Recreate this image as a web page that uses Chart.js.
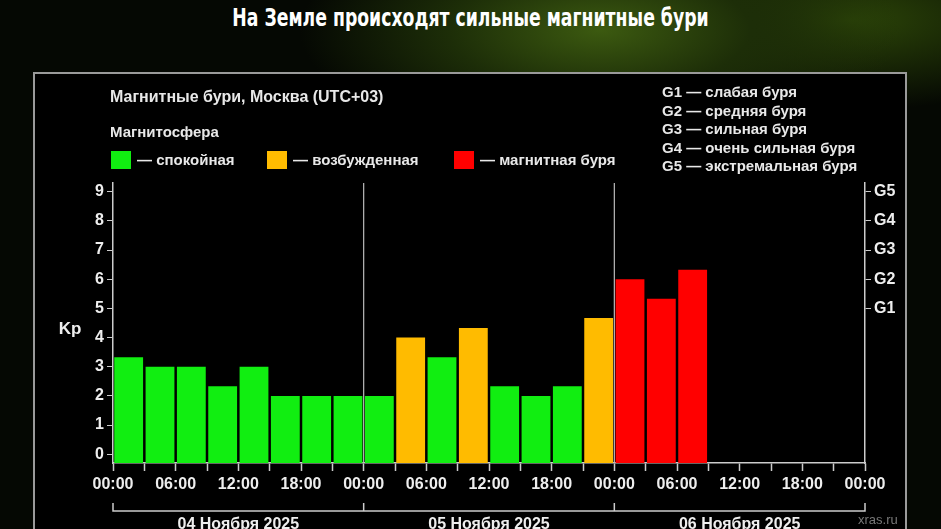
<!DOCTYPE html>
<html><head><meta charset="utf-8">
<script src="https://cdn.jsdelivr.net/npm/chart.js@4"></script>
<style>
body{margin:0;width:941px;height:529px;overflow:hidden;font-family:"Liberation Sans",Arial,sans-serif;
background:radial-gradient(ellipse 300px 120px at 600px 30px,#3c5a10 0%,#1d2e08 50%,transparent 100%),radial-gradient(ellipse 250px 90px at 850px 20px,#2c4508,transparent),#050803;position:relative}
#title{position:absolute;top:4px;left:0;width:941px;text-align:center;color:#fff;font:bold 24px "Liberation Sans Narrow","DejaVu Sans Condensed",sans-serif;transform:scaleX(0.8);}
#panel{position:absolute;left:33px;top:72px;width:870px;height:470px;background:#000;border:2px solid #9a9a9a}
canvas{position:absolute;left:0;top:0}
.t{position:absolute;color:#e8e8e8;font-weight:bold;font-size:15px;white-space:nowrap}
.sw{position:absolute;width:20px;height:18px}
</style></head><body>
<div id="title">На Земле происходят сильные магнитные бури</div>
<div id="panel"></div>
<canvas id="c" width="941" height="529"></canvas>
<div class="t" style="left:110px;top:88px;font-size:16px">Магнитные бури, Москва (UTC+03)</div>
<div class="t" style="left:110px;top:123px">Магнитосфера</div>
<div class="sw" style="left:111px;top:151px;background:#11ee11"></div><div class="t" style="left:137px;top:151px">— спокойная</div>
<div class="sw" style="left:267px;top:151px;background:#ffbb00"></div><div class="t" style="left:293px;top:151px">— возбужденная</div>
<div class="sw" style="left:454px;top:151px;background:#ff0000"></div><div class="t" style="left:480px;top:151px">— магнитная буря</div>
<div class="t" style="left:662px;top:83px;line-height:18.5px">G1 — слабая буря<br>G2 — средняя буря<br>G3 — сильная буря<br>G4 — очень сильная буря<br>G5 — экстремальная буря</div>
<div class="t" style="left:858px;top:512px;font-size:13px;font-weight:normal;color:#777">xras.ru</div>
<script>
const hours=[1.5,4.5,7.5,10.5,13.5,16.5,19.5,22.5,25.5,28.5,31.5,34.5,37.5,40.5,43.5,46.5,49.5,52.5,55.5];
const kp=[3.33,3,3,2.33,3,2,2,2,2,4,3.33,4.33,2.33,2,2.33,4.67,6,5.33,6.33];
const dayLabels=['04 Ноября 2025','05 Ноября 2025','06 Ноября 2025'];
const gLabels={5:'G1',6:'G2',7:'G3',8:'G4',9:'G5'};
const col=v=>v>=5?'#ff0000':(v>=4?'#ffbb00':'#11ee11');
const F={family:'"Liberation Sans",Arial',size:16,weight:'bold'};
const deco={id:'deco',afterDraw(c){const x=c.scales.x,y=c.scales.y,g=c.ctx,a=c.chartArea;g.save();
g.strokeStyle='#bbb';g.lineWidth=1.2;
[24,48].forEach(h=>{const p=x.getPixelForValue(h);g.beginPath();g.moveTo(p,a.top);g.lineTo(p,a.bottom);g.stroke();});
g.strokeStyle='#ccc';g.lineWidth=1.5;
const yb=a.bottom+48;g.beginPath();g.moveTo(x.getPixelForValue(0),yb-8);g.lineTo(x.getPixelForValue(0),yb);g.lineTo(x.getPixelForValue(72),yb);g.lineTo(x.getPixelForValue(72),yb-8);
[24,48].forEach(h=>{g.moveTo(x.getPixelForValue(h),yb-8);g.lineTo(x.getPixelForValue(h),yb);});g.stroke();
g.fillStyle='#eee';g.font='bold 16px "Liberation Sans",Arial';g.textAlign='center';g.textBaseline='middle';
dayLabels.forEach((d,i)=>g.fillText(d,x.getPixelForValue(i*24+12),yb+14));
g.font='bold 17px "Liberation Sans",Arial';g.fillText('Kp',70,y.getPixelForValue(4.3));g.restore();}};
new Chart(document.getElementById('c'),{type:'bar',
data:{datasets:[{data:hours.map((h,i)=>({x:h,y:kp[i]})),base:-0.3,backgroundColor:kp.map(col),barPercentage:0.92,categoryPercentage:1}]},
options:{responsive:false,animation:false,layout:{padding:{left:33,right:36,top:183,bottom:0}},
plugins:{legend:{display:false},tooltip:{enabled:false}},
scales:{x:{type:'linear',offset:false,min:0,max:72,afterFit:s=>{s.height=66},
afterBuildTicks:s=>{s.ticks=[];for(let h=0;h<=72;h+=3)s.ticks.push({value:h});},
grid:{drawOnChartArea:false,offset:false,color:'#ccc',tickLength:8,tickWidth:1.5},border:{color:'#ccc',width:1.5},
ticks:{color:'#eee',font:F,maxRotation:0,autoSkip:false,padding:4,callback:v=>v%6===0?String(v%24).padStart(2,'0')+':00':''}},
y:{min:-0.3,max:9.3,afterFit:s=>{s.width=80},afterBuildTicks:s=>{s.ticks=[];for(let i=0;i<=9;i++)s.ticks.push({value:i});},
grid:{drawOnChartArea:false,color:'#ccc',tickLength:6},border:{color:'#ccc',width:1.5},ticks:{color:'#eee',font:F,padding:3}},
y2:{position:'right',min:-0.3,max:9.3,afterFit:s=>{s.width=40},afterBuildTicks:s=>{s.ticks=[];for(let i=5;i<=9;i++)s.ticks.push({value:i});},
grid:{drawOnChartArea:false,color:'#ccc',tickLength:6},border:{color:'#ccc',width:1.5},ticks:{color:'#eee',font:F,padding:3,callback:v=>gLabels[v]}}}},
plugins:[deco]});
</script></body></html>
